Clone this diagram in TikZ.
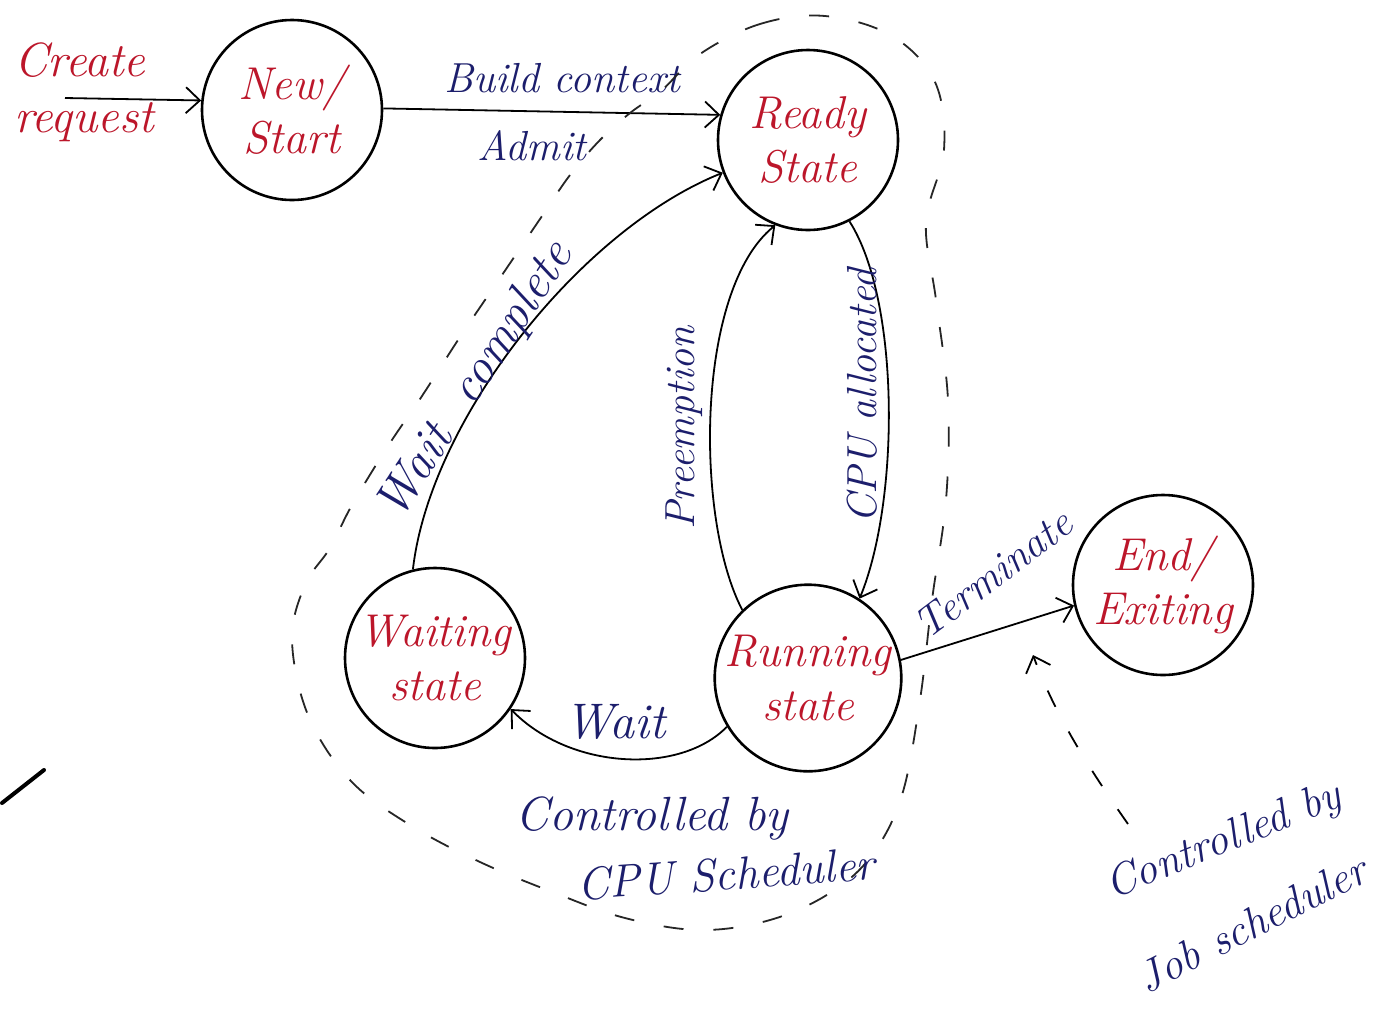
\documentclass[tikz,border=0pt]{standalone}
\usetikzlibrary{arrows.meta}
\definecolor{ink}{RGB}{28,30,108}
\definecolor{redink}{RGB}{188,22,42}
\tikzset{
  procstate/.style={circle, draw=black, line width=1.3pt, minimum size=90pt,
    inner sep=0pt, text=redink, align=center,
    font=\fontsize{23}{27}\selectfont\itshape},
  trans/.style={draw=black, line width=0.9pt,
    -{Straight Barb[length=7pt,width=13pt,line width=0.9pt]}},
  lbl/.style={text=ink, inner sep=1pt, font=\fontsize{21}{25}\selectfont\itshape},
  biglbl/.style={lbl, font=\fontsize{23}{27}\selectfont\itshape},
  redlbl/.style={text=redink, inner sep=1pt, align=left,
    font=\fontsize{24}{28}\selectfont\itshape},
  zone/.style={draw=black!85, line width=0.9pt, dash pattern=on 10pt off 15pt},
}
\begin{document}
\begin{tikzpicture}[x=0.5pt,y=-0.5pt]
  \useasboundingbox[fill=white] (0,0) rectangle (1398,1008);

  % process states
  \node[procstate] (new)  at (292,110) {New/\\Start};
  \node[procstate] (ready) at (808,140) {Ready\\State};
  \node[procstate] (wait) at (435,658) {Waiting\\state};
  \node[procstate] (run)  at (808,678) {Running\\state};
  \node[procstate] (done) at (1163,585) {End/\\Exiting};

  % entry request
  \node[redlbl] (create) at (84,92) {Create\\request};
  \coordinate (reqstart) at (65,98);
  \draw[trans] (reqstart) -- (new.174);

  % transitions
  \draw[trans] (new.1) -- (ready.164);
  \draw[trans] (wait.104) .. controls (430,420) and (580,230) .. (ready.201);
  \draw[trans] (run.134) .. controls (695,520) and (695,290) .. (ready.249);
  \draw[trans] (ready.-63) .. controls (900,300) and (900,500) .. (run.57);
  \draw[trans] (run.211) .. controls (680,775) and (570,770) .. (wait.-34);
  \draw[trans] (run.11) -- (done.193);

  % transition labels
  \node[lbl] (lbuild) at (562,78) {Build context};
  \node[lbl] (ladmit) at (532,146) {Admit};
  \node[lbl, rotate=57, font=\fontsize{25}{28}\selectfont\itshape] (lwc) at (476,381) {Wait\ \ complete};
  \node[lbl, rotate=90] (lpre) at (684,428) {Preemption};
  \node[lbl, rotate=90] (lcpu) at (862,396) {CPU allocated};
  \node[lbl, font=\fontsize{25}{28}\selectfont\itshape] (lwait) at (615,722) {Wait};
  \node[lbl, rotate=37] (lterm) at (993,574) {Terminate};

  % region handled by the CPU scheduler
  \draw[zone] plot[smooth cycle, tension=0.6] coordinates {
    (700,54) (760,24) (825,16) (892,36) (935,82) (944,150) (926,222)
    (936,300) (948,400) (946,500) (932,600) (920,700) (902,795)
    (872,855) (830,893) (770,920) (700,930) (625,918) (555,893)
    (480,862) (410,825) (350,780) (308,715) (292,640) (305,585)
    (330,548) (352,505) (388,446) (422,396) (460,337) (500,278)
    (540,219) (570,175) (600,140) (630,113) (662,90)};
  \node[biglbl, font=\fontsize{24}{28}\selectfont\itshape] (lcpu1) at (652,818) {Controlled by};
  \node[biglbl, rotate=4] (lcpu2) at (726,874) {CPU Scheduler};

  % job scheduler note
  \node[lbl, rotate=22, font=\fontsize{22}{26}\selectfont\itshape] (ljob1) at (1224,842) {Controlled by};
  \node[lbl, rotate=27, font=\fontsize{22}{26}\selectfont\itshape] (ljob2) at (1252,924) {Job scheduler};
  \coordinate (jobtail) at (1128,824);
  \coordinate (jobtip) at (1033,655);
  \draw[trans, dash pattern=on 9pt off 14pt]
    (jobtail) .. controls (1090,770) and (1055,715) .. (jobtip);

  % pen stroke at the left margin
  \draw[line width=2pt, line cap=round] (2,803) -- (44,770);
\end{tikzpicture}
\end{document}
